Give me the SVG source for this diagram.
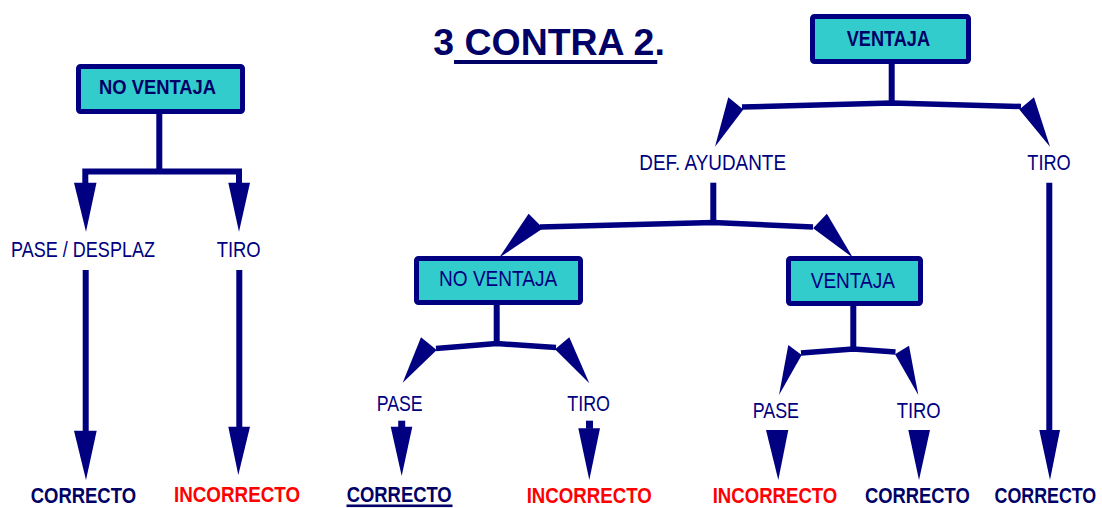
<svg xmlns="http://www.w3.org/2000/svg" width="1102" height="508" viewBox="0 0 1102 508">
  <style>
    .box { fill: #33CCCC; stroke: #000080; stroke-width: 5; }
    .ln { fill: none; stroke: #000080; stroke-width: 6; stroke-linejoin: miter; stroke-linecap: butt; }
    .lt { fill: none; stroke: #000080; stroke-width: 5.5; stroke-linejoin: round; stroke-linecap: butt; }
    .head { fill: #000080; }
    .lbl { font-family: "Liberation Sans", Arial, sans-serif; font-size: 22px; fill: #000080; }
    .bld { font-family: "Liberation Sans", Arial, sans-serif; font-weight: bold; fill: #000066; }
    .res { font-family: "Liberation Sans", Arial, sans-serif; font-weight: bold; font-size: 22.5px; }
    .ok { fill: #000066; }
    .bad { fill: #FF0000; }
  </style>

  <!-- title -->
  <g id="title">
    <text class="bld" x="433.3" y="55" font-size="37" textLength="231.5" lengthAdjust="spacingAndGlyphs">3 CONTRA 2.</text>
    <rect x="454" y="60" width="203.3" height="4" fill="#000066"/>
  </g>

  <!-- decision boxes -->
  <g id="no-ventaja-left">
    <rect class="box" x="78.5" y="66.5" width="164" height="45" rx="2"/>
    <text class="bld" x="99" y="94" font-size="21" textLength="117" lengthAdjust="spacingAndGlyphs">NO VENTAJA</text>
  </g>
  <g id="ventaja-top">
    <rect class="box" x="812.5" y="16.5" width="156" height="45" rx="2"/>
    <text class="bld" x="846.7" y="46" font-size="22" textLength="83.3" lengthAdjust="spacingAndGlyphs">VENTAJA</text>
  </g>
  <g id="no-ventaja-mid">
    <rect class="box" x="416.5" y="258.5" width="164" height="44" rx="2"/>
    <text class="lbl" x="439" y="286" textLength="118.3" lengthAdjust="spacingAndGlyphs">NO VENTAJA</text>
  </g>
  <g id="ventaja-mid">
    <rect class="box" x="788.5" y="258.5" width="132" height="45" rx="2"/>
    <text class="lbl" x="810.7" y="287.7" textLength="84.3" lengthAdjust="spacingAndGlyphs">VENTAJA</text>
  </g>

  <!-- option labels -->
  <g id="pase-desplaz"><text class="lbl" x="11" y="257.3" textLength="144" lengthAdjust="spacingAndGlyphs">PASE / DESPLAZ</text></g>
  <g id="tiro-left"><text class="lbl" x="216.7" y="257.3" textLength="44" lengthAdjust="spacingAndGlyphs">TIRO</text></g>
  <g id="def-ayudante"><text class="lbl" x="639.3" y="170" textLength="146.7" lengthAdjust="spacingAndGlyphs">DEF. AYUDANTE</text></g>
  <g id="tiro-top"><text class="lbl" x="1027.3" y="170" textLength="43.4" lengthAdjust="spacingAndGlyphs">TIRO</text></g>
  <g id="pase-mid"><text class="lbl" x="376.7" y="410.7" textLength="46" lengthAdjust="spacingAndGlyphs">PASE</text></g>
  <g id="tiro-mid"><text class="lbl" x="567.3" y="410.7" textLength="42.7" lengthAdjust="spacingAndGlyphs">TIRO</text></g>
  <g id="pase-right"><text class="lbl" x="752.7" y="418.3" textLength="46.3" lengthAdjust="spacingAndGlyphs">PASE</text></g>
  <g id="tiro-right"><text class="lbl" x="896.7" y="418.3" textLength="44" lengthAdjust="spacingAndGlyphs">TIRO</text></g>

  <!-- outcomes -->
  <g id="res-1"><text class="res ok" x="30.7" y="503" textLength="105.3" lengthAdjust="spacingAndGlyphs">CORRECTO</text></g>
  <g id="res-2"><text class="res bad" x="174" y="502" textLength="126" lengthAdjust="spacingAndGlyphs">INCORRECTO</text></g>
  <g id="res-3">
    <text class="res ok" x="346.7" y="501.5" textLength="105" lengthAdjust="spacingAndGlyphs">CORRECTO</text>
    <rect x="346.5" y="504.5" width="106" height="2.6" fill="#000066"/>
  </g>
  <g id="res-4"><text class="res bad" x="526.7" y="503" textLength="125" lengthAdjust="spacingAndGlyphs">INCORRECTO</text></g>
  <g id="res-5"><text class="res bad" x="712.7" y="503" textLength="124.6" lengthAdjust="spacingAndGlyphs">INCORRECTO</text></g>
  <g id="res-6"><text class="res ok" x="865" y="503" textLength="104.8" lengthAdjust="spacingAndGlyphs">CORRECTO</text></g>
  <!-- narrowed by a horizontal scale so the word stays inside the right edge -->
  <g id="res-7"><text class="res ok" transform="translate(994.5,503) scale(0.793,1)">CORRECTO</text></g>

  <!-- connectors -->
  <g id="connectors">
    <!-- left tree: NO VENTAJA -> PASE / DESPLAZ, TIRO -->
    <line class="ln" x1="159.3" y1="113" x2="159.3" y2="172"/>
    <polyline class="ln" points="85.3,184 85.3,171.5 239,171.5 239,184"/>
    <polygon class="head" points="74,182.7 96.5,182.7 86,231.7"/>
    <polygon class="head" points="228.3,182.7 250,182.7 239,231.7"/>
    <line class="ln" x1="85.7" y1="270" x2="85.7" y2="432"/>
    <polygon class="head" points="74,430.7 96.7,430.7 86,480"/>
    <line class="ln" x1="239.3" y1="270" x2="239.3" y2="428"/>
    <polygon class="head" points="228.3,426.7 250,426.7 238.3,475"/>

    <!-- VENTAJA -> DEF. AYUDANTE, TIRO -->
    <line class="ln" x1="891.7" y1="63" x2="891.7" y2="104"/>
    <polyline class="lt" points="742,107 891.7,103 1021,106.5"/>
    <polygon class="head" points="728.3,97.3 743.3,109.5 715,146.7"/>
    <polygon class="head" points="1034,97.3 1019.3,109.5 1050,146.7"/>
    <line class="ln" x1="1049.3" y1="182.7" x2="1049.3" y2="432"/>
    <polygon class="head" points="1039.3,430 1060,430 1050,480"/>

    <!-- DEF. AYUDANTE -> NO VENTAJA, VENTAJA -->
    <line class="ln" x1="713.3" y1="182.7" x2="713.3" y2="222"/>
    <polyline class="lt" points="540,227 713.3,222.5 813,227"/>
    <polygon class="head" points="528.6,213.8 543.1,228.3 499.3,257.6"/>
    <polygon class="head" points="826.9,213.8 813.1,228.3 852.8,257.6"/>

    <!-- NO VENTAJA (mid) -> PASE, TIRO -->
    <line class="ln" x1="496.7" y1="303" x2="496.7" y2="344"/>
    <polyline class="lt" points="436,348.5 496.7,343.5 556,347.5"/>
    <polygon class="head" points="421,337.3 436.7,350 402.7,382.7"/>
    <polygon class="head" points="569.3,337.3 555,349.3 589.3,383.3"/>
    <rect class="head" x="398.2" y="420.7" width="7" height="7"/>
    <polygon class="head" points="390.7,426.7 412.3,426.7 401.7,476"/>
    <rect class="head" x="586" y="420.7" width="7" height="8"/>
    <polygon class="head" points="578.3,428.3 600,428.3 589.3,480"/>

    <!-- VENTAJA (mid) -> PASE, TIRO -->
    <line class="ln" x1="853.3" y1="304" x2="853.3" y2="350"/>
    <polyline class="lt" points="801,353 853.3,349 895.5,352"/>
    <polygon class="head" points="788.3,345 801.7,355 779,395"/>
    <polygon class="head" points="909,345.7 895,354.3 918.3,395"/>
    <polygon class="head" points="766,430 788.3,430 778.3,480"/>
    <polygon class="head" points="908.3,430 930,430 919,480"/>
  </g>
</svg>
